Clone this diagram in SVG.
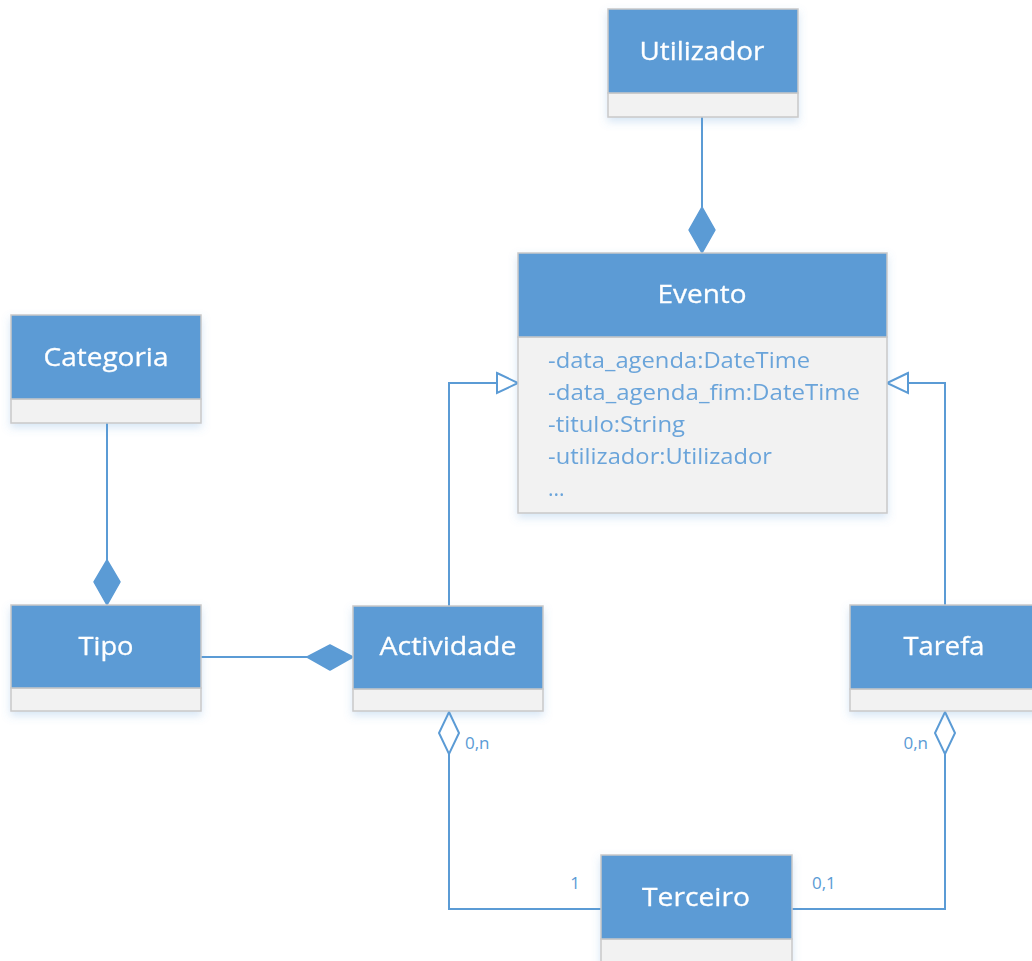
<svg xmlns="http://www.w3.org/2000/svg" width="1032" height="961" viewBox="0 0 1032 961">
  <style>
    .hdr { fill: #5B9BD5; stroke: #C9C9C9; stroke-width: 1.5; }
    .body { fill: #F2F2F2; stroke: #C9C9C9; stroke-width: 1.5; }
    .title { font-family: "Open Sans", "Noto Sans", sans-serif; font-size: 26px; fill: #FFFFFF; text-anchor: middle; stroke: #FFFFFF; stroke-width: 0.3; }
    .attr { font-family: "Open Sans", "Noto Sans", sans-serif; font-size: 21px; fill: #6AA4DA; }
    .mult { font-family: "Open Sans", "Noto Sans", sans-serif; font-size: 17px; fill: #5B9BD5; }
    .edge { fill: none; stroke: #5B9BD5; stroke-width: 2; }
    .solid { fill: #5B9BD5; stroke: #5B9BD5; stroke-width: 1.5; stroke-linejoin: round; }
    .hollow { fill: #FFFFFF; stroke: #5B9BD5; stroke-width: 2; stroke-linejoin: miter; }
  </style>
  <defs>
    <filter id="glow" x="-10%" y="-10%" width="120%" height="130%">
      <feDropShadow dx="0" dy="4" stdDeviation="4" flood-color="#5B9BD5" flood-opacity="0.25"/>
    </filter>
  </defs>
  <rect width="1032" height="961" fill="#FFFFFF"/>

  <!-- connectors -->
  <g id="connectors">
    <!-- Utilizador composed into Evento -->
    <line class="edge" x1="702" y1="117" x2="702" y2="207"/>
    <polygon class="solid" points="702,207 715,230 702,253 689,230"/>
    <!-- Categoria composed into Tipo -->
    <line class="edge" x1="107" y1="423" x2="107" y2="560"/>
    <polygon class="solid" points="107,560 120,582 107,605 94,582"/>
    <!-- Tipo composed into Actividade -->
    <line class="edge" x1="201" y1="657" x2="307" y2="657"/>
    <polygon class="solid" points="307,657 330,645 353,657 330,670"/>
    <!-- Actividade generalizes to Evento -->
    <polyline class="edge" points="449,606 449,383 497,383"/>
    <polygon class="hollow" points="497,373 518,383 497,393"/>
    <!-- Tarefa generalizes to Evento -->
    <polyline class="edge" points="945,606 945,383 908,383"/>
    <polygon class="hollow" points="908,373 887,383 908,393"/>
    <!-- Terceiro aggregated into Actividade -->
    <polyline class="edge" points="601,909 449,909 449,754"/>
    <polygon class="hollow" points="449,712 459,733 449,754 439,733"/>
    <!-- Terceiro aggregated into Tarefa -->
    <polyline class="edge" points="792,909 945,909 945,754"/>
    <polygon class="hollow" points="945,712 955,733 945,754 935,733"/>
    <text class="mult" x="465" y="749">0,n</text>
    <text class="mult" x="928" y="749" text-anchor="end">0,n</text>
    <text class="mult" x="580" y="889" text-anchor="end">1</text>
    <text class="mult" x="812" y="889">0,1</text>
  </g>

  <g id="utilizador" filter="url(#glow)">
    <rect class="body" x="608" y="93" width="190" height="24"/>
    <rect class="hdr" x="608" y="9" width="190" height="84"/>
    <text class="title" x="702" y="60" textLength="125" lengthAdjust="spacingAndGlyphs">Utilizador</text>
  </g>

  <g id="evento" filter="url(#glow)">
    <rect class="body" x="518" y="337" width="369" height="176"/>
    <rect class="hdr" x="518" y="253" width="369" height="84"/>
    <text class="title" x="702" y="303" textLength="89" lengthAdjust="spacingAndGlyphs">Evento</text>
    <text class="attr" x="548" y="368" textLength="262" lengthAdjust="spacingAndGlyphs">-data_agenda:DateTime</text>
    <text class="attr" x="548" y="400" textLength="312" lengthAdjust="spacingAndGlyphs">-data_agenda_fim:DateTime</text>
    <text class="attr" x="548" y="432" textLength="137" lengthAdjust="spacingAndGlyphs">-titulo:String</text>
    <text class="attr" x="548" y="464" textLength="224" lengthAdjust="spacingAndGlyphs">-utilizador:Utilizador</text>
    <text class="attr" x="548" y="496">...</text>
  </g>

  <g id="categoria" filter="url(#glow)">
    <rect class="body" x="11" y="399" width="190" height="24"/>
    <rect class="hdr" x="11" y="315" width="190" height="84"/>
    <text class="title" x="106" y="366" textLength="125" lengthAdjust="spacingAndGlyphs">Categoria</text>
  </g>

  <g id="tipo" filter="url(#glow)">
    <rect class="body" x="11" y="688" width="190" height="23"/>
    <rect class="hdr" x="11" y="605" width="190" height="83"/>
    <text class="title" x="106" y="655" textLength="55" lengthAdjust="spacingAndGlyphs">Tipo</text>
  </g>

  <g id="actividade" filter="url(#glow)">
    <rect class="body" x="353" y="689" width="190" height="22"/>
    <rect class="hdr" x="353" y="606" width="190" height="83"/>
    <text class="title" x="448" y="655" textLength="137" lengthAdjust="spacingAndGlyphs">Actividade</text>
  </g>

  <g id="tarefa" filter="url(#glow)">
    <rect class="body" x="850" y="689" width="190" height="22"/>
    <rect class="hdr" x="850" y="605" width="190" height="84"/>
    <text class="title" x="944" y="655" textLength="81" lengthAdjust="spacingAndGlyphs">Tarefa</text>
  </g>

  <g id="terceiro" filter="url(#glow)">
    <rect class="body" x="601" y="939" width="191" height="30"/>
    <rect class="hdr" x="601" y="855" width="191" height="84"/>
    <text class="title" x="696" y="906" textLength="108" lengthAdjust="spacingAndGlyphs">Terceiro</text>
  </g>
</svg>
